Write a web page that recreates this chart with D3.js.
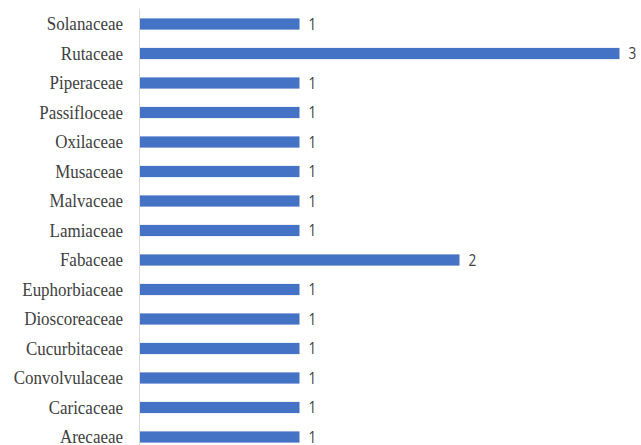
<!DOCTYPE html>
<html><head><meta charset="utf-8">
<script src="https://cdn.jsdelivr.net/npm/d3@7"></script>
<style>html,body{margin:0;padding:0;background:#fff;}</style>
</head><body>
<svg id="c" width="641" height="445"></svg>
<script>
const categories = ["Solanaceae","Rutaceae","Piperaceae","Passifloceae","Oxilaceae","Musaceae","Malvaceae","Lamiaceae","Fabaceae","Euphorbiaceae","Dioscoreaceae","Cucurbitaceae","Convolvulaceae","Caricaceae","Arecaeae"];
const values = [1,3,1,1,1,1,1,1,2,1,1,1,1,1,1];

const svg = d3.select("#c");
const x = d3.scaleLinear().domain([0,3]).range([139.5,619.5]);
const y = d3.scaleBand().domain(categories).range([9.25,451.75]).paddingInner(0.62).paddingOuter(0.31);

svg.selectAll("rect.bar").data(categories).enter().append("rect")
  .attr("class","bar")
  .attr("x", x(0))
  .attr("y", d => y(d))
  .attr("width", (d,i) => x(values[i]) - x(0))
  .attr("height", y.bandwidth())
  .attr("fill", "#4472C4");

svg.append("line").attr("x1",139.5).attr("x2",139.5).attr("y1",9.25).attr("y2",451.75)
  .attr("stroke","#d9d9d9").attr("stroke-width",1);

svg.selectAll("text.cat").data(categories).enter().append("text")
  .attr("class","cat")
  .attr("transform", d => `translate(123,${y(d) + y.bandwidth()/2}) scale(0.87,1)`)
  .attr("dy","0.33em")
  .attr("text-anchor","end")
  .attr("font-family","Liberation Serif, serif")
  .attr("font-size","19.5px")
  .attr("fill","#404040")
  .text(d => d);

svg.selectAll("text.val").data(categories).enter().append("text")
  .attr("class","val")
  .attr("transform", (d,i) => `translate(${x(values[i]) + 9},${y(d) + y.bandwidth()/2}) scale(0.85,1)`)
  .attr("dy","0.35em")
  .attr("font-family","Open Sans, sans-serif")
  .attr("font-size","16px")
  .attr("fill","#404040")
  .text((d,i) => values[i]);
</script>
</body></html>
